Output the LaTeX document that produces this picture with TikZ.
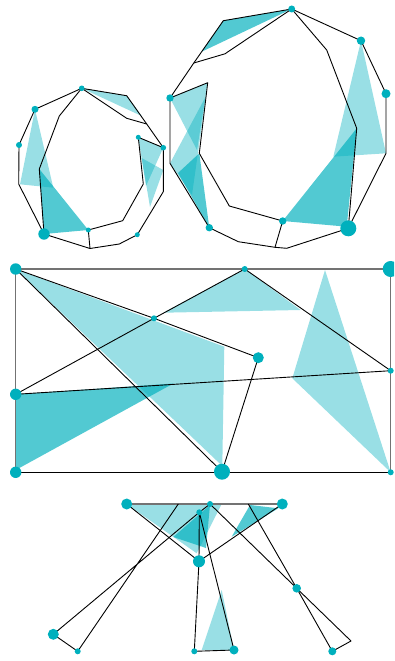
\documentclass[tikz,border=0pt]{standalone}
\definecolor{tc}{RGB}{0,176,189}
\begin{document}
\begin{tikzpicture}[x=1pt,y=-1pt,
  edge/.style={draw=black,line width=0.9pt,line join=round},
  gedge/.style={draw=black!55,line width=1.5pt},
  lt/.style={fill=tc,fill opacity=0.4},
  dk/.style={fill=tc,fill opacity=0.68},
  dot/.style={circle,fill=tc,inner sep=0pt,minimum size=#1}]
\useasboundingbox (0,0) rectangle (394,661);
\clip (0,0) rectangle (394,661);
% ---------- left ring ----------
\coordinate (a1) at (126.7,95.7);
\coordinate (a2) at (146.7,124);
\coordinate (a3) at (163.3,191.7);
\coordinate (a4) at (119.3,244);
\coordinate (a5) at (90,248.5);
\coordinate (a6) at (18.7,184);
\coordinate (a7) at (126.7,118.3);
\coordinate (a8) at (59.3,116);
\coordinate (a9) at (39.3,169);
\coordinate (a10) at (122.7,220.7);
\coordinate (a11) at (143.3,184);
\coordinate (A) at (81.7,88.3);
\coordinate (B) at (163.3,147.7);
\coordinate (C) at (137.3,234.7);
\coordinate (D) at (44,234);
\coordinate (E) at (19,145);
\coordinate (F) at (35,109.3);
\coordinate (G) at (88.3,230);
\coordinate (H) at (138.3,137.3);
\path[lt] (F) -- (20,184.3) -- (53.3,187.7) -- cycle;
\path[dk] (a9) -- (G) -- (D) -- cycle;
\path[lt] (A) -- (a1) -- (141.7,116) -- cycle;
\path[lt] (H) -- (B) -- (146,186) -- cycle;
\path[lt] (141.7,158) -- (163.3,170) -- (150,207) -- cycle;
\draw[edge] (A) -- (a1) -- (a2) -- (B) -- (a3) -- (C) -- (a4) -- (a5) -- (D) -- (a6) -- (E) -- (F) -- cycle;
\draw[edge] (A) -- (a7) -- (a2);
\draw[edge] (A) -- (a8) -- (a9) -- (D);
\draw[edge] (G) -- (a5);
\draw[edge] (G) -- (a10) -- (a11) -- (H) -- (B);
% ---------- right ring ----------
\coordinate (P) at (291.7,9);
\coordinate (Q) at (361,40.7);
\coordinate (R) at (386,93.7);
\coordinate (b1) at (386,153.3);
\coordinate (S) at (348.3,228.3);
\coordinate (b2) at (286.7,248.3);
\coordinate (b3) at (275,247.3);
\coordinate (b4) at (238.3,241.7);
\coordinate (T) at (209.3,227.7);
\coordinate (b5) at (170,163.3);
\coordinate (U) at (170,98);
\coordinate (b6) at (193.8,63);
\coordinate (b7) at (223.3,20.7);
\coordinate (b8) at (225,53.8);
\coordinate (b9) at (326.7,50);
\coordinate (b10) at (356.7,128.3);
\coordinate (V) at (282.7,221);
\coordinate (b11) at (229.3,206);
\coordinate (b12) at (199.3,153.3);
\coordinate (b13) at (207.7,82.7);
\path[dk] (b7) -- (P) -- (201.7,51.7) -- cycle;
\path[lt] (U) -- (b13) -- (197,150) -- cycle;
\path[lt] (b5) -- (206,96) -- (192,195) -- cycle;
\path[dk] (178,173) -- (b12) -- (T) -- cycle;
\path[lt] (Q) -- (333.3,156.7) -- (b1) -- cycle;
\path[dk] (V) -- (b10) -- (346.7,226.7) -- cycle;
\draw[edge] (P) -- (Q) -- (R) -- (b1) -- (S) -- (b2) -- (b3) -- (b4) -- (T) -- (b5) -- (U) -- (b6) -- (b7) -- cycle;
\draw[edge] (b6) -- (b8) -- (P);
\draw[edge] (P) -- (b9) -- (b10) -- (S);
\draw[edge] (V) -- (b3);
\draw[edge] (V) -- (b11) -- (b12) -- (b13) -- (U);
% ---------- middle rectangle ----------
\coordinate (M1) at (15.7,269);
\coordinate (M2) at (15.7,394.3);
\coordinate (M3) at (15.7,472.3);
\coordinate (M4) at (154,318.3);
\coordinate (M5) at (244.7,269);
\coordinate (M6) at (390.7,269);
\coordinate (M7) at (390.7,370.7);
\coordinate (M8) at (390.7,472.3);
\coordinate (M9) at (258.3,357.7);
\coordinate (M10) at (222,471.7);
\path[lt] (M1) -- (224.3,346.7) -- (222.3,466) -- cycle;
\path[lt] (M5) -- (163.3,312.7) -- (300.7,310) -- cycle;
\path[dk] (M2) -- (173.3,383.5) -- (15.7,470) -- cycle;
\path[lt] (325,270) -- (292.3,378.3) -- (M8) -- cycle;
\draw[gedge] (M1) -- (M6);
\draw[gedge] (M1) -- (M2) -- (M3);
\draw[gedge] (M6) -- (M7) -- (M8);
\draw[edge] (M3) -- (M8);
\draw[edge] (M1) -- (M4) -- (M9);
\draw[edge] (M1) -- (M10);
\draw[edge] (M2) -- (M4) -- (M5);
\draw[edge] (M5) -- (M7);
\draw[edge] (M2) -- (M7);
\draw[edge] (M9) -- (M10);
% ---------- bottom ----------
\coordinate (N1) at (126.7,504);
\coordinate (N2) at (282.3,504);
\coordinate (N3) at (210,504);
\coordinate (N4) at (199.3,512.3);
\coordinate (N5) at (199,561.3);
\coordinate (N6) at (296.7,588.3);
\coordinate (N7) at (53.3,634.3);
\coordinate (N8) at (77.7,651.3);
\coordinate (N9) at (194.3,651.3);
\coordinate (N10) at (234,650);
\coordinate (N11) at (332.3,651.3);
\coordinate (c1) at (351,641);
\coordinate (c2) at (178.3,504);
\coordinate (c3) at (248.3,504);
\path[lt] (N1) -- (221.7,504) -- (196.7,553.3) -- cycle;
\path[dk] (173.3,537) -- (210,505) -- (206,548) -- cycle;
\path[dk] (250,505) -- (278.3,508.3) -- (231.7,536.7) -- cycle;
\path[lt] (221.7,590) -- (N10) -- (201.7,650) -- cycle;
\draw[gedge,line width=1.2pt] (N1) -- (N2);
\draw[edge] (N1) -- (N5) -- (N2);
\draw[edge] (c2) -- (N8) -- (N7) -- (N4) -- (N3);
\draw[edge] (N4) -- (N5) -- (N9) -- (N10) -- (N4);
\draw[edge] (N3) -- (N6) -- (c1) -- (N11) -- (N6) -- (c3);
% ---------- dots ----------
\node[dot=5.6pt] (nA) at (A) {};
\node[dot=5.6pt] (nB) at (B) {};
\node[dot=5pt] (nC) at (C) {};
\node[dot=11.4pt] (nD) at (D) {};
\node[dot=6pt] (nE) at (E) {};
\node[dot=7pt] (nF) at (F) {};
\node[dot=5pt] (nG) at (G) {};
\node[dot=5pt] (nH) at (H) {};
\node[dot=7pt] (nP) at (P) {};
\node[dot=8.4pt] (nQ) at (Q) {};
\node[dot=9pt] (nR) at (R) {};
\node[dot=16pt] (nS) at (S) {};
\node[dot=7.4pt] (nT) at (T) {};
\node[dot=7.4pt] (nU) at (U) {};
\node[dot=7.4pt] (nV) at (V) {};
\node[dot=11.4pt] (nM1) at (M1) {};
\node[dot=11.4pt] (nM2) at (M2) {};
\node[dot=11.4pt] (nM3) at (M3) {};
\node[dot=6pt] (nM4) at (M4) {};
\node[dot=6pt] (nM5) at (M5) {};
\node[dot=16pt] (nM6) at (M6) {};
\node[dot=6pt] (nM7) at (M7) {};
\node[dot=6pt] (nM8) at (M8) {};
\node[dot=11pt] (nM9) at (M9) {};
\node[dot=16pt] (nM10) at (M10) {};
\node[dot=11pt] (nN1) at (N1) {};
\node[dot=11pt] (nN2) at (N2) {};
\node[dot=6pt] (nN3) at (N3) {};
\node[dot=6pt] (nN4) at (N4) {};
\node[dot=12pt] (nN5) at (N5) {};
\node[dot=8.6pt] (nN6) at (N6) {};
\node[dot=11pt] (nN7) at (N7) {};
\node[dot=6pt] (nN8) at (N8) {};
\node[dot=6pt] (nN9) at (N9) {};
\node[dot=9pt] (nN10) at (N10) {};
\node[dot=8pt] (nN11) at (N11) {};
\end{tikzpicture}
\end{document}
